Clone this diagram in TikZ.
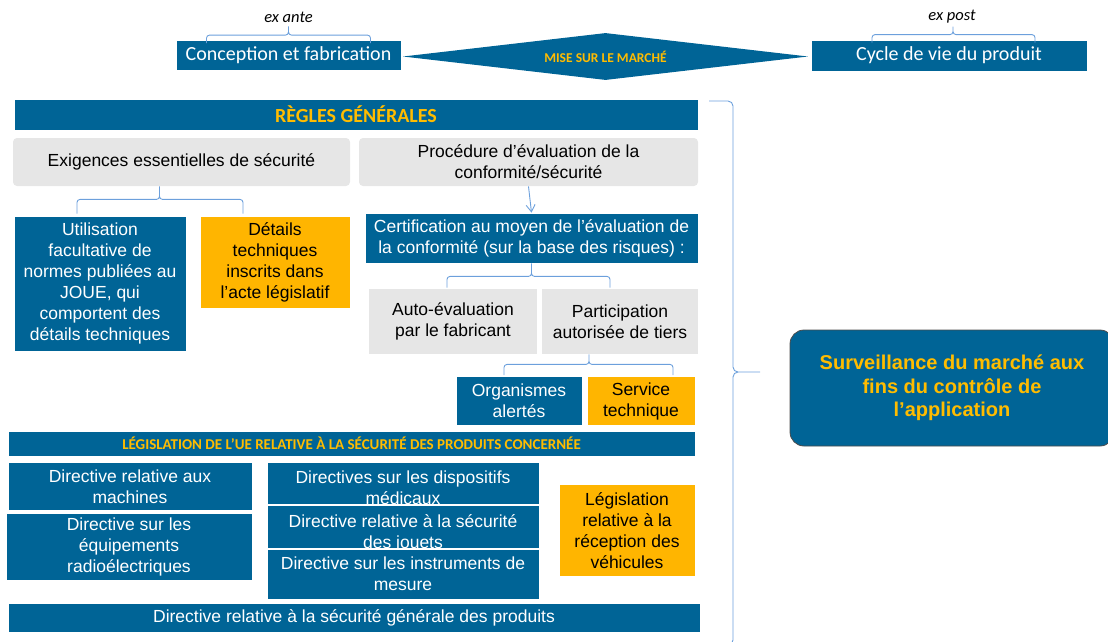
\documentclass[tikz,border=0pt]{standalone}
\usepackage{fontspec}
\setmainfont{Liberation Sans}
\newfontfamily\calibri{Carlito}
\usetikzlibrary{shapes.geometric,arrows.meta}
\definecolor{euBlue}{RGB}{0,100,150}
\definecolor{euOrange}{RGB}{255,181,0}
\definecolor{euText}{RGB}{255,188,0}
\definecolor{euGrey}{RGB}{230,230,230}
\definecolor{brkBlue}{RGB}{108,160,220}
\def\bodytxt{\fontsize{17.5}{21}\selectfont}

\begin{document}
\begin{tikzpicture}[x=1pt,y=-1pt,
  box/.style={inner sep=0pt, align=center, font=\bodytxt, draw=white, line width=0.8pt},
  bluebox/.style={box, fill=euBlue, text=white},
  orangebox/.style={box, fill=euOrange, text=black},
  greybox/.style={box, fill=euGrey, text=black, draw=none},
  head/.style={box, fill=euBlue, text=euText, font=\calibri\bfseries\fontsize{20}{24}\selectfont},
  phase/.style={bluebox, font=\calibri\fontsize{20}{24}\selectfont},
  brk/.style={draw=brkBlue, line width=0.9pt, rounded corners=3pt},
]
\useasboundingbox (0,0) rectangle (1108,641);

%% top line: ex ante / ex post
\node[phase, minimum width=225pt, minimum height=30pt] (concep) at (288.5,55.5) {Conception et fabrication};
\node[diamond, aspect=8.6, fill=euBlue, inner sep=0pt, minimum width=405pt, minimum height=47pt,
      text=euText, font=\calibri\bfseries\fontsize{13.5}{16}\selectfont] (mise) at (605.5,56.5) {MISE SUR LE MARCHÉ};
\node[phase, minimum width=276pt, minimum height=31pt] (cycle) at (949,55.5) {Cycle de vie du produit};
\node[font=\calibri\itshape\fontsize{16.5}{20}\selectfont] (exante) at (288.5,17.5) {ex ante};
\node[font=\calibri\itshape\fontsize{16.5}{20}\selectfont] (expost) at (952,16.5) {ex post};

\draw[brk] ([xshift=-82pt,yshift=-3pt]concep.north) |- ([yshift=5pt]concep.north) -- (exante.south)
           ([xshift=82pt,yshift=-3pt]concep.north) |- ([yshift=5pt]concep.north) -- (exante.south);
\draw[brk] ([xshift=-77pt,yshift=-3pt]cycle.north) |- ([xshift=4pt,yshift=5pt]cycle.north) -- ([xshift=4pt]cycle.north |- expost.south)
           ([xshift=86pt,yshift=-3pt]cycle.north) |- ([xshift=4pt,yshift=5pt]cycle.north) -- ([xshift=4pt]cycle.north |- expost.south);

%% regles generales
\node[head, minimum width=684pt, minimum height=31pt] (regles) at (356,114.5) {RÈGLES GÉNÉRALES};
\node[greybox, rounded corners=4pt, minimum width=337pt, minimum height=48pt] (exig) at (181.5,162) {Exigences essentielles de sécurité};
\node[greybox, rounded corners=4pt, minimum width=339pt, minimum height=48pt] (proc) at (528.5,162) {Procédure d’évaluation de la\\conformité/sécurité};

\node[bluebox, minimum width=172pt, minimum height=135pt] (util) at (100,283.5) {Utilisation\\facultative de\\normes publiées au\\JOUE, qui\\comportent des\\détails techniques};
\node[orangebox, minimum width=150pt, minimum height=92pt] (det) at (275,262) {Détails\\techniques\\inscrits dans\\l’acte législatif};
\node[bluebox, minimum width=333pt, minimum height=50pt] (cert) at (531.5,238) {Certification au moyen de l’évaluation de\\la conformité (sur la base des risques) :};
\node[greybox, minimum width=168pt, minimum height=65pt] (auto) at (453,321.5) {Auto-évaluation\\par le fabricant};
\node[greybox, minimum width=156pt, minimum height=65pt] (part) at (620,321.5) {Participation\\autorisée de tiers};
\node[bluebox, minimum width=126pt, minimum height=49pt] (orga) at (519,401) {Organismes\\alertés};
\node[orangebox, minimum width=108pt, minimum height=49pt] (serv) at (641,401) {Service\\technique};

\draw[brk] ([xshift=-23pt,yshift=2pt]util.north) |- ([xshift=-22pt,yshift=-13pt]exig.south) -- ([xshift=-22pt]exig.south)
           ([xshift=-32pt,yshift=2pt]det.north) |- ([xshift=-22pt,yshift=-13pt]exig.south) -- ([xshift=-22pt]exig.south);
\draw[brk, -{Straight Barb[length=7pt,width=9pt]}] (proc.south) -- (cert.north);
\draw[brk] ([xshift=-6pt,yshift=1pt]auto.north) |- ([yshift=-13pt]cert.south) -- (cert.south)
           ([xshift=-10pt,yshift=1pt]part.north) |- ([yshift=-13pt]cert.south) -- (cert.south);
\draw[brk] ([xshift=-15pt,yshift=1pt]orga.north) |- ([xshift=-31pt,yshift=-10pt]part.south) -- ([xshift=-31pt]part.south)
           ([xshift=32pt,yshift=1pt]serv.north) |- ([xshift=-31pt,yshift=-10pt]part.south) -- ([xshift=-31pt]part.south);

%% legislation sectorielle
\node[head, font=\calibri\bfseries\fontsize{15}{18}\selectfont, minimum width=687pt, minimum height=25pt] (legis) at (351.5,443.5) {LÉGISLATION DE L’UE RELATIVE À LA SÉCURITÉ DES PRODUITS CONCERNÉE};
\node[bluebox, minimum width=244pt, minimum height=48pt] (mach) at (130,486.5) {Directive relative aux\\machines};
\node[bluebox, minimum width=246pt, minimum height=67pt] (radio) at (129,547) {Directive sur les\\équipements\\radioélectriques};
\node[bluebox, minimum width=272pt, minimum height=42pt] (medi) at (403,483) {};
\node[box, draw=none, text=white] (meditxt) at ([yshift=-4.5pt]medi.center) {Directives sur les dispositifs\\médicaux};
\node[bluebox, minimum width=272pt, minimum height=43pt] (jouet) at (403,526.5) {};
\node[box, draw=none, text=white] (jouettxt) at ([yshift=-6.5pt]jouet.center) {Directive relative à la sécurité\\des jouets};
\node[bluebox, minimum width=272pt, minimum height=50pt] (mesure) at (403,574) {Directive sur les instruments de\\mesure};
\node[orangebox, minimum width=136pt, minimum height=92pt] (vehic) at (627,530.5) {Législation\\relative à la\\réception des\\véhicules};
\node[bluebox, minimum width=692pt, minimum height=29pt] (gen) at (354,617.5) {Directive relative à la sécurité générale des produits};

%% surveillance du marche
\node[bluebox, draw=black!70, rounded corners=14pt, minimum width=324pt, minimum height=116pt,
      text=euText, font=\bfseries\fontsize{20}{23.5}\selectfont] (surv) at (952,388) {Surveillance du marché aux\\fins du contrôle de\\l’application};
\coordinate (btop) at (709,101);
\coordinate (bbot) at (709,645);
\coordinate (btip) at (760,372);
\draw[brk, rounded corners=5pt] (btop) -| (733,372) -- (btip)
                                (bbot) -| (733,372) -- (btip);
\end{tikzpicture}
\end{document}
